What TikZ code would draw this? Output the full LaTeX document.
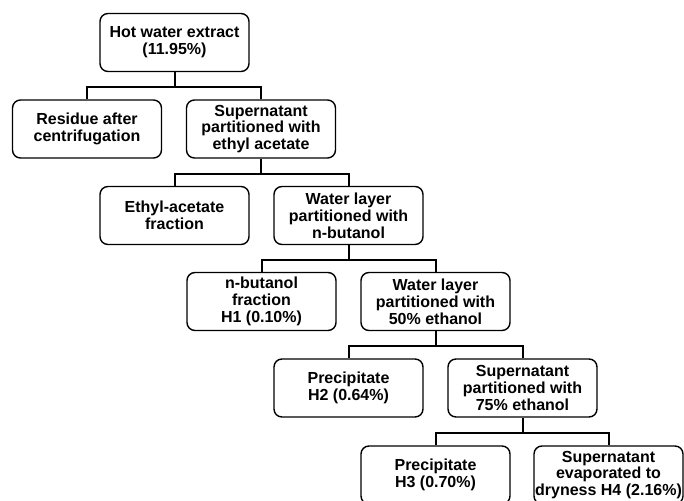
\documentclass[tikz,border=0pt]{standalone}
\usepackage{fontspec}
\setmainfont{Liberation Sans}
\begin{document}
\begin{tikzpicture}[x=1pt,y=-1pt,
  box/.style={draw=black, line width=1.4pt, rounded corners=8pt, fill=white,
    minimum width=149pt, minimum height=58pt, inner sep=1pt, align=center,
    font=\fontsize{16}{16.8}\selectfont\bfseries},
  link/.style={draw=black, line width=2pt}]
\useasboundingbox[fill=white] (0,0) rectangle (684,500);
\node[box] (A) at (174.5,42.5) {Hot water extract\\(11.95\%)};
\node[box] (B) at (87,129) {Residue after\\centrifugation};
\node[box] (C) at (261,129) {Supernatant\\partitioned with\\ethyl acetate};
\node[box] (D) at (174.5,215.5) {Ethyl-acetate\\fraction};
\node[box] (E) at (348.5,215.5) {Water layer\\partitioned with\\n-butanol};
\node[box] (F) at (261.5,301.5) {n-butanol\\fraction\\H1 (0.10\%)};
\node[box] (G) at (435.5,301.5) {Water layer\\partitioned with\\50\% ethanol};
\node[box] (H) at (348.5,388) {Precipitate\\H2 (0.64\%)};
\node[box] (I) at (522.5,388) {Supernatant\\partitioned with\\75\% ethanol};
\node[box] (J) at (435.5,475) {Precipitate\\H3 (0.70\%)};
\node[box] (K) at (608.5,475) {Supernatant\\evaporated to\\dryness H4 (2.16\%)};
\foreach \p/\a/\b in {A/B/C, C/D/E, E/F/G, G/H/I, I/J/K}{
  \draw[link] (\p.south) -- ++(0,15) coordinate (\p bar);
  \draw[link] (\a.north) |- (\p bar) -| (\b.north);
}
\end{tikzpicture}
\end{document}
